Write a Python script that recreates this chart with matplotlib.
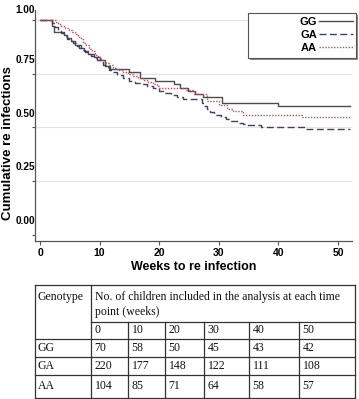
import numpy as np
import matplotlib
matplotlib.use('Agg')
import matplotlib.pyplot as plt
from matplotlib.patches import Rectangle
from matplotlib.transforms import ScaledTranslation

# Kaplan-Meier style steps: week of drop, children still free of re-infection
gg_n = 70
gg_weeks = [0, 2.0, 2.3, 4.0, 4.6, 5.2, 5.8, 6.8, 7.4, 8.0, 9.0, 10.0, 10.9, 11.7,
            15.0, 16.8, 19.3, 22.4, 23.5, 24.9, 26.0, 27.4, 30.5, 40.0]
gg_left = [70, 68, 66, 65, 64, 63, 62, 61, 60, 59, 58, 57, 55, 54,
           53, 51, 50, 49, 48, 47, 46, 45, 43, 42]

ga_n = 220
ga_weeks = [0, 2.0, 2.5, 3.0, 3.5, 4.0, 4.5, 5.0, 5.5, 6.0, 6.5, 7.0, 7.5, 8.0, 8.5,
            9.0, 9.5, 10.0, 10.5, 11.0, 11.5, 12.0, 13.0, 14.0, 15.0, 16.0, 17.0,
            18.0, 19.0, 20.0, 21.0, 22.0, 23.0, 24.0, 27.2, 27.6, 28.0, 28.6, 29.2,
            30.3, 31.2, 32.0, 33.0, 34.0, 34.7, 37.0, 44.7]
ga_left = [220, 217, 213, 210, 207, 204, 201, 199, 196, 193, 191, 189, 187, 185, 183,
           181, 179, 177, 174, 172, 169, 167, 164, 161, 158, 156, 155,
           152, 150, 147, 145, 143, 141, 139, 135, 132, 129, 126, 123,
           121, 119, 117, 115, 114, 113, 111, 108]

aa_n = 104
aa_weeks = [0, 2.6, 3.0, 3.6, 4.2, 4.8, 5.3, 5.8, 6.3, 6.8, 7.2, 7.8, 8.3, 8.8, 9.3,
            9.8, 10.0, 10.6, 11.0, 11.6, 12.3, 13.0, 14.0, 14.8, 15.6, 16.4, 17.2,
            18.2, 19.0, 19.6, 20.0, 24.5, 25.8, 28.0, 30.0, 31.3, 32.4, 34.0, 44.0]
aa_left = [104, 103, 102, 101, 100, 99, 98, 97, 96, 95, 93, 92, 90, 89, 87,
           86, 85, 84, 83, 82, 81, 80, 79, 78, 77, 76, 75,
           74, 73, 72, 71, 70, 68, 65, 63, 61, 60, 58, 57]

follow_up = 52

# numbers at risk table
genotypes = ['GG', 'GA', 'AA']
time_points = [0, 10, 20, 30, 40, 50]
at_risk = {
    'GG': [70, 58, 50, 45, 43, 42],
    'GA': [220, 177, 148, 122, 111, 108],
    'AA': [104, 85, 71, 64, 58, 57],
}

W, H = 359, 399
fig = plt.figure(figsize=(W / 100, H / 100), dpi=100)
sans = ['Liberation Sans', 'DejaVu Sans']
serif = ['Liberation Serif', 'DejaVu Serif']

ax = fig.add_axes([35 / W, (H - 241) / H, 317 / W, 231 / H])
ax.set_xlim(-0.84, 52.35)
ax.set_ylim(-0.028, 1.0465)

series = [
    ('GG', gg_weeks, gg_left, gg_n, '#4d4d4d', '-'),
    ('GA', ga_weeks, ga_left, ga_n, '#3d3f6e', (0, (5, 2.5))),
    ('AA', aa_weeks, aa_left, aa_n, '#b8505a', (0, (1, 1.1))),
]
for name, wk, left, n, col, ls in series:
    t = np.append(wk, follow_up)
    s = np.array(left + [left[-1]]) / n
    ax.step(t, s, where='post', color=col, ls=ls, lw=1.0, label=name, zorder=3)

ax.set_xticks([0, 10, 20, 30, 40, 50])
ax.set_yticks([0, 0.25, 0.5, 0.75, 1.0])
ax.set_yticklabels(['0.00', '0.25', '0.50', '0.75', '1.00'])
ax.yaxis.grid(True, color='#e4e4e4', lw=0.8)
ax.get_ygridlines()[0].set_visible(False)
ax.set_axisbelow(True)

for side in ['top', 'right']:
    ax.spines[side].set_visible(False)
for side in ['left', 'bottom']:
    ax.spines[side].set_color('#555555')
    ax.spines[side].set_linewidth(0.9)

ax.tick_params(axis='x', length=3, width=0.8, color='#555555', pad=2)
ax.tick_params(axis='y', length=2.5, width=0.8, color='#555555', pad=0)
for lab in ax.get_xticklabels():
    lab.set_fontfamily(sans)
    lab.set_fontweight('bold')
    lab.set_fontsize(7.5)
for i, lab in enumerate(ax.get_yticklabels()):
    lab.set_fontfamily(sans)
    lab.set_fontweight('bold')
    lab.set_fontsize(7.2)
    dy = 0.105 if i == 4 else 0.148
    lab.set_transform(lab.get_transform() + ScaledTranslation(0.035, dy, fig.dpi_scale_trans))

ax.set_xlabel('Weeks to re infection', fontfamily=sans, fontweight='bold', fontsize=9)
ax.xaxis.set_label_coords(0.5, -0.085)
ax.set_ylabel('Cumulative re infections', fontfamily=sans, fontweight='bold', fontsize=9.5)
ax.yaxis.set_label_coords(-0.066, 0.424)

# legend box with shadow, labels to the left of the line samples
ax.add_patch(Rectangle((249.5 / W, (H - 59.5) / H), 108 / W, 45 / H, transform=fig.transFigure,
                       facecolor='#8a8a8a', edgecolor='none', clip_on=False, zorder=4))
ax.add_patch(Rectangle((248 / W, (H - 58) / H), 108 / W, 45 / H, transform=fig.transFigure,
                       facecolor='white', edgecolor='#555555', lw=0.8, clip_on=False, zorder=4))
ax.legend(loc='upper right', bbox_to_anchor=(353 / W, (H - 17) / H), bbox_transform=fig.transFigure,
          frameon=False, markerfirst=False, borderpad=0, borderaxespad=0,
          handlelength=3.1, handletextpad=0.15, labelspacing=0.28,
          prop={'family': sans, 'weight': 'bold', 'size': 8})

# table of children at risk drawn below the chart
tax = fig.add_axes([0, 0, 1, 1], zorder=-1)
tax.set_xlim(0, W)
tax.set_ylim(H, 0)
tax.axis('off')

x_left, x_geno, x_right = 35, 90.5, 355
col_x = [90.5, 127.5, 164.5, 203.5, 248.5, 298.5]
y_top, y_sub, y_head, y_bot = 285, 321.5, 339, 397.5
row_y = [339, 356.5, 375, 397.5]
lc = dict(color='#333333', lw=0.9)

tax.plot([x_left, x_right], [y_top, y_top], **lc)
tax.plot([x_geno, x_right], [y_sub, y_sub], **lc)
for y in row_y:
    tax.plot([x_left, x_right], [y, y], **lc)
for x in [x_left, x_geno, x_right]:
    tax.plot([x, x], [y_top, y_bot], **lc)
for x in col_x[1:]:
    tax.plot([x, x], [y_sub, y_bot], **lc)

tk = dict(fontfamily=serif, fontsize=8.5, va='center', ha='left', color='#111111')
tax.text(38, 297, 'Genotype', **tk)
tax.text(95, 297, 'No. of children included in the analysis at each time', **tk)
tax.text(95, 312, 'point (weeks)', **tk)
for x, tp in zip(col_x, time_points):
    tax.text(x + 4, (y_sub + y_head) / 2, str(tp), **tk)
for i, g in enumerate(genotypes):
    yc = (row_y[i] + row_y[i + 1]) / 2
    tax.text(38, yc, g, **tk)
    for x, v in zip(col_x, at_risk[g]):
        tax.text(x + 4, yc, str(v), **tk)

fig.savefig('out.png', dpi=100)
